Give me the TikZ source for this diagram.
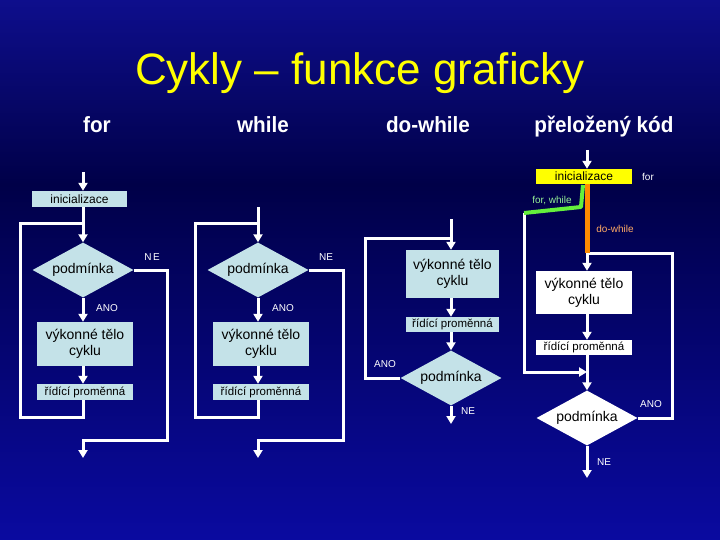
\documentclass[tikz,border=0pt]{standalone}
\usepackage{fontspec}
\setmainfont{Liberation Sans}
\newfontfamily\hdfont[FakeStretch=0.94]{Liberation Sans}
\usetikzlibrary{arrows.meta,shapes.geometric}
\definecolor{bgtop}{RGB}{14,14,140}
\definecolor{bgmid}{RGB}{0,0,72}
\definecolor{bgbot}{RGB}{10,10,160}
\definecolor{boxc}{RGB}{196,226,232}
\definecolor{titley}{RGB}{255,255,0}
\definecolor{grn}{RGB}{100,240,60}
\definecolor{grntxt}{RGB}{150,240,150}
\definecolor{org}{RGB}{255,140,0}
\definecolor{orgtxt}{RGB}{255,170,100}
\begin{document}
\begin{tikzpicture}[x=1pt,y=-1pt,
  proc/.style={rectangle, fill=boxc, inner sep=0pt, align=center, text=black, font=\fontsize{14}{16}\selectfont},
  small/.style={proc, font=\fontsize{12}{14}\selectfont},
  cond/.style={diamond, fill=boxc, aspect=1.84, minimum width=101pt, minimum height=55pt, inner sep=0pt, text=black, font=\fontsize{14}{16}\selectfont},
  wbox/.style={fill=white},
  wire/.style={draw=white, line width=3pt},
  arr/.style={wire, -{Triangle[width=9pt,length=8pt]}},
  lbl/.style={text=white, inner sep=0pt, font=\fontsize{10}{12}\selectfont},
  hd/.style={text=white, anchor=base, font=\hdfont\bfseries\fontsize{22}{24}\selectfont}
]
\useasboundingbox (0,0) rectangle (720,540);
\shade[top color=bgtop,bottom color=bgmid] (0,0) rectangle (720,185);
\shade[top color=bgmid,bottom color=bgbot] (0,184) rectangle (720,540);

% title and headers
\node[anchor=base, text=titley, font=\fontsize{44}{48}\selectfont] (title) at (360,85) {Cykly – funkce graficky};
\node[hd] (hfor) at (97,133) {for};
\node[hd] (hwhile) at (263,133) {while};
\node[hd] (hdo) at (428,133) {do-while};
\node[hd] (hcode) at (604,133) {přeložený kód};

% ---------- column 1: for ----------
\coordinate (top1) at (83,172);
\node[small, minimum width=95pt, minimum height=16pt] (init1) at (79.5,199) {inicializace};
\node[cond] (d1) at (83,270) {podmínka};
\node[proc, minimum width=96pt, minimum height=44pt] (b1) at (85,344) {výkonné tělo\\cyklu};
\node[small, font=\fontsize{11.5}{13}\selectfont, minimum width=96pt, minimum height=16pt] (r1) at (85,392) {řídící proměnná};
\coordinate (j1) at (83,224);
\coordinate (l1) at (20,417);
\coordinate (ne1) at (167,440);
\coordinate (end1) at (83,458);
\draw[arr] (top1) -- (top1 |- init1.north);
\draw[arr] (init1.south -| d1.north) -- (d1.north);
\draw[arr] (d1.south) -- (d1.south |- b1.north);
\draw[arr] (b1.south -| d1.south) -- (d1.south |- r1.north);
\draw[wire] (r1.south -| j1) |- (l1) |- (j1);
\draw[arr] (d1.east) -| (ne1) -| (end1);
\node[lbl] (ne1t) at (152,257) {N\kern1.5pt E};
\node[lbl] (ano1t) at (107,308) {ANO};

% ---------- column 2: while ----------
\coordinate (top2) at (258,207);
\node[cond] (d2) at (258,270) {podmínka};
\node[proc, minimum width=96pt, minimum height=44pt] (b2) at (261,344) {výkonné tělo\\cyklu};
\node[small, font=\fontsize{11.5}{13}\selectfont, minimum width=96pt, minimum height=16pt] (r2) at (261,392) {řídící proměnná};
\coordinate (j2) at (258,224);
\coordinate (l2) at (195,417);
\coordinate (ne2) at (343,440);
\coordinate (end2) at (258,458);
\draw[arr] (top2) -- (d2.north);
\draw[arr] (d2.south) -- (d2.south |- b2.north);
\draw[arr] (b2.south -| d2.south) -- (d2.south |- r2.north);
\draw[wire] (r2.south -| j2) |- (l2) |- (j2);
\draw[arr] (d2.east) -| (ne2) -| (end2);
\node[lbl] (ne2t) at (326,257) {NE};
\node[lbl] (ano2t) at (283,308) {ANO};

% ---------- column 3: do-while ----------
\coordinate (top3) at (451,219);
\node[proc, minimum width=93pt, minimum height=48pt] (b3) at (452.5,274) {výkonné tělo\\cyklu};
\node[small, font=\fontsize{11.5}{13}\selectfont, minimum width=93pt, minimum height=15pt] (r3) at (452.5,324.5) {řídící proměnná};
\node[cond] (d3) at (451,378) {podmínka};
\coordinate (j3) at (451,238);
\coordinate (l3) at (365,238);
\coordinate (end3) at (451,424);
\draw[arr] (top3) -- (top3 |- b3.north);
\draw[arr] (b3.south -| top3) -- (top3 |- r3.north);
\draw[arr] (r3.south -| top3) -- (d3.north);
\draw[wire] (d3.west) -| (l3) -- (j3);
\draw[arr] (d3.south) -- (end3);
\node[lbl] (ano3t) at (385,364) {ANO};
\node[lbl] (ne3t) at (468,411) {NE};

% ---------- column 4: compiled code ----------
\coordinate (top4) at (587,150);
\node[small, fill=titley, minimum width=96pt, minimum height=15pt] (init4) at (584,176.5) {inicializace};
\node[lbl] (for4t) at (648,177) {for};
\node[proc, wbox, minimum width=96pt, minimum height=43pt] (b4) at (584,292.5) {výkonné tělo\\cyklu};
\node[small, wbox, font=\fontsize{11.5}{13}\selectfont, minimum width=96pt, minimum height=15pt] (r4) at (584,347.5) {řídící proměnná};
\node[cond, fill=white] (d4) at (587,418) {podmínka};
\coordinate (g1) at (583,185);
\coordinate (g2) at (581,207);
\coordinate (g3) at (524,213);
\coordinate (o2) at (587,253);
\coordinate (m4) at (587,372);
\coordinate (a4) at (672,253);
\coordinate (end4) at (587,478);
\draw[arr] (top4) -- (top4 |- init4.north);
\draw[arr] (g3) |- (m4);
\draw[arr] (o2) -- (top4 |- b4.north);
\draw[arr] (b4.south -| top4) -- (top4 |- r4.north);
\draw[arr] (r4.south -| d4.north) -- (d4.north);
\draw[wire] (d4.east) -| (a4) -- (o2);
\draw[arr] (d4.south) -- (end4);
\draw[draw=org, line width=5pt] (init4.south -| top4) -- (o2);
\draw[draw=grn, line width=4pt, line join=round] (g1) -- (g2) -- (g3);
\node[lbl, text=grntxt] (fwt) at (552,201) {for, while};
\node[lbl, text=orgtxt] (dwt) at (615,229) {do-while};
\node[lbl] (ano4t) at (651,404) {ANO};
\node[lbl] (ne4t) at (604,462) {NE};
\end{tikzpicture}
\end{document}
